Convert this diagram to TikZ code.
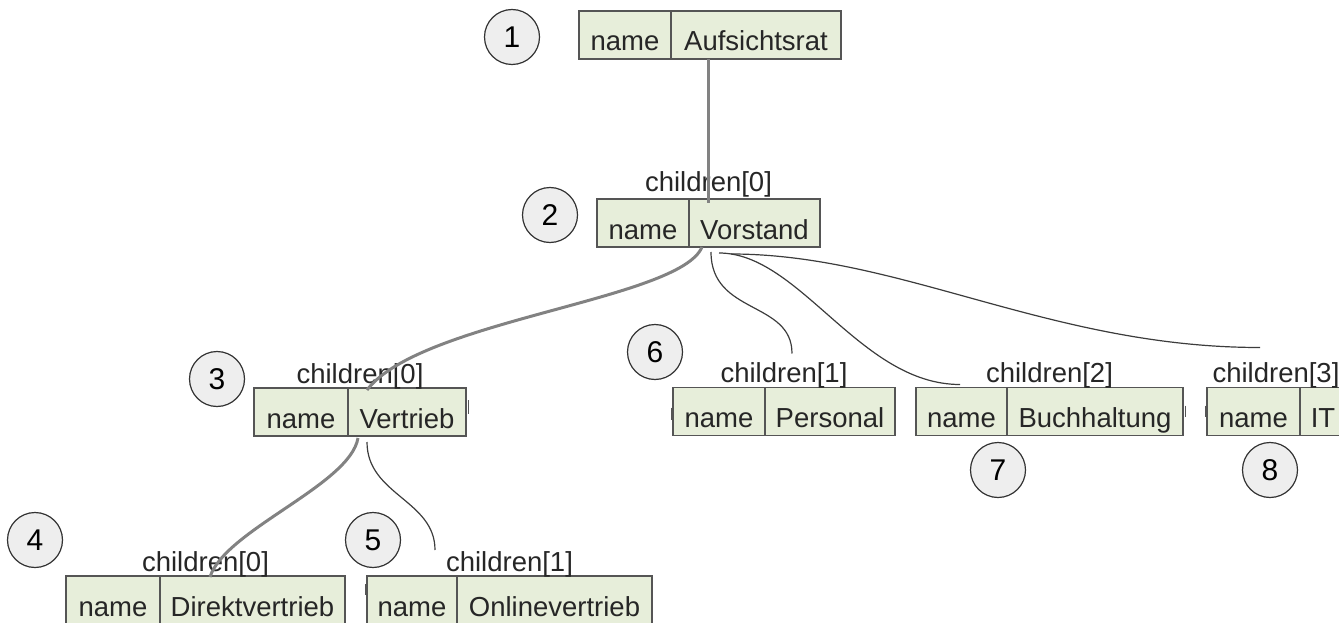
\documentclass[tikz,border=0pt]{standalone}
\usepackage{fontspec}
\setmainfont{Liberation Sans}
\usetikzlibrary{calc}
\definecolor{cellfill}{HTML}{E7EEDA}
\definecolor{cellline}{HTML}{555555}
\definecolor{txt}{HTML}{262626}
\definecolor{thickc}{HTML}{828282}
\definecolor{thinc}{HTML}{3C3C3C}
\definecolor{circfill}{HTML}{EEEEEE}
\begin{document}
\begin{tikzpicture}[x=1pt,y=-1pt,
  cell/.style={draw=cellline, line width=1.8pt, fill=cellfill, minimum height=48pt,
    inner sep=0pt, outer sep=0pt, text height=34pt, text depth=2pt,
    font=\fontsize{27.5}{30}\selectfont, text=txt},
  lab/.style={anchor=base, inner sep=0pt, font=\fontsize{27.5}{30}\selectfont, text=txt},
  num/.style={circle, draw=black!80, line width=1.2pt, fill=circfill, minimum size=55pt,
    inner sep=0pt, font=\fontsize{30}{32}\selectfont},
  heavy/.style={draw=thickc, line width=3pt},
  light/.style={draw=thinc, line width=1.2pt},
  tickmark/.style={draw=cellline, line width=1pt}]
\useasboundingbox (0,0) rectangle (1339,623);
\clip (0,0) rectangle (1339,623);

% records
\node[cell, minimum width=92pt] (An) at (625,35) {name};
\node[cell, minimum width=170pt, anchor=west] (Av) at (An.east) {Aufsichtsrat};

\node[cell, minimum width=92pt] (Vn) at (643,223) {name};
\node[cell, minimum width=131pt, anchor=west] (Vv) at (Vn.east) {Vorstand};
\node[lab] (Vl) at (708.5,192) {children[0]};

\node[cell, minimum width=94pt] (Ven) at (301,412) {name};
\node[cell, minimum width=118pt, anchor=west] (Vev) at (Ven.east) {Vertrieb};
\node[lab] (Vel) at (360,383) {children[0]};

\node[cell, minimum width=94pt] (Dn) at (113,600) {name};
\node[cell, minimum width=185pt, anchor=west] (Dv) at (Dn.east) {Direktvertrieb};
\node[lab] (Dl) at (205.5,571) {children[0]};

\node[cell, minimum width=90pt] (On) at (412,600) {name};
\node[cell, minimum width=195pt, anchor=west] (Ov) at (On.east) {Onlinevertrieb};
\node[lab] (Ol) at (509.5,571) {children[1]};

\node[cell, minimum width=92pt] (Pn) at (719,411.5) {name};
\node[cell, minimum width=130pt, anchor=west] (Pv) at (Pn.east) {Personal};
\node[lab] (Pl) at (784,382) {children[1]};

\node[cell, minimum width=91pt] (Bn) at (961.5,411.5) {name};
\node[cell, minimum width=176pt, anchor=west] (Bv) at (Bn.east) {Buchhaltung};
\node[lab] (Bl) at (1049.5,382) {children[2]};

\node[cell, minimum width=93pt] (ITn) at (1253.5,411.5) {name};
\node[cell, minimum width=46pt, anchor=west] (ITv) at (ITn.east) {IT};
\node[lab] (ITl) at (1276,382) {children[3]};

% numbered circles
\node[num] (c1) at (512,37) {1};
\node[num] (c2) at (550,215) {2};
\node[num] (c3) at (217,379) {3};
\node[num] (c4) at (35,540) {4};
\node[num] (c5) at (373,540) {5};
\node[num] (c6) at (655,352) {6};
\node[num] (c7) at (998,470) {7};
\node[num] (c8) at (1270,470) {8};

% small port ticks
\draw[tickmark] ([xshift=2pt,yshift=-12pt]Vev.north east) -- ++(0,14);
\draw[tickmark] ([xshift=-2pt,yshift=-20pt]Pn.north west) -- ++(0,12);
\draw[tickmark] ([xshift=2pt,yshift=-18pt]Bv.north east) -- ++(0,11);
\draw[tickmark] ([xshift=-2pt,yshift=-18pt]ITn.north west) -- ++(0,11);
\draw[tickmark] ([xshift=-2pt,yshift=-8pt]On.north west) -- ++(0,11);

% connectors
\draw[heavy] ([xshift=37pt]Av.south west) -- ([xshift=19pt,yshift=-4pt]Vv.north west);
\draw[heavy] ([xshift=13pt]Vv.south west) .. controls +(-22,53) and +(53,-70) .. ([xshift=19pt,yshift=-2pt]Vev.north west);
\draw[light] ([xshift=22pt,yshift=-5pt]Vv.south west) .. controls +(0,63) and +(0,-53) .. ([xshift=27pt,yshift=34pt]Pv.north west);
\draw[light] ([xshift=30pt,yshift=-6pt]Vv.south west) .. controls +(81,0) and +(-100,0) .. ([xshift=44pt,yshift=3pt]Bn.north west);
\draw[light] ([xshift=42pt,yshift=-7pt]Vv.south west) .. controls +(170,0) and +(-210,0) .. ([xshift=53pt,yshift=40pt]ITn.north west);
\draw[heavy] ([xshift=10pt,yshift=-2pt]Vev.south west) .. controls +(-8,47) and +(15,-47) .. ([xshift=50pt,yshift=-1pt]Dv.north west);
\draw[light] ([xshift=19pt,yshift=-6pt]Vev.south west) .. controls +(0,53) and +(0,-50) .. ([xshift=-22pt,yshift=26pt]Ov.north west);
\end{tikzpicture}
\end{document}
